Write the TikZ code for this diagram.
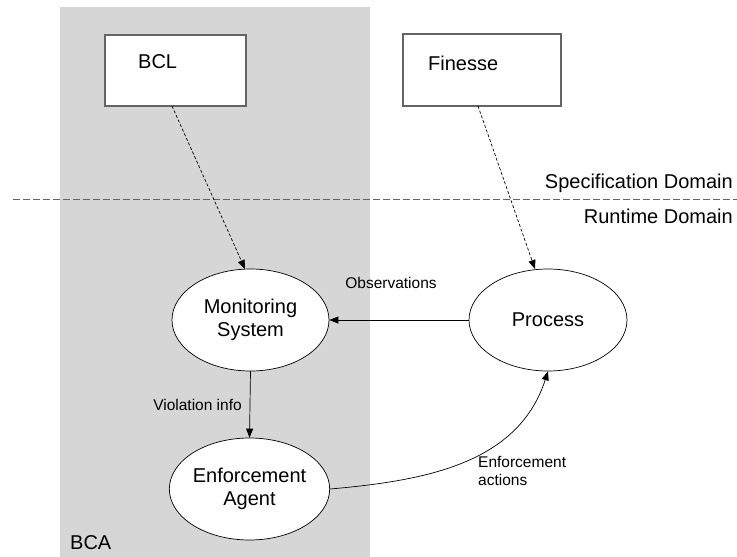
\documentclass[tikz,border=0pt]{standalone}
\usepackage{fontspec}
\setmainfont{Liberation Sans}
\usetikzlibrary{arrows.meta,shapes.geometric}
\definecolor{areagray}{RGB}{214,214,214}
\definecolor{boxedge}{RGB}{100,100,100}
\begin{document}
\begin{tikzpicture}[x=1pt,y=-1pt,
  bigtext/.style={font=\fontsize{20}{23}\selectfont},
  smalltext/.style={font=\fontsize{15.5}{18}\selectfont},
  specbox/.style={draw=boxedge,line width=1.2pt,fill=white,inner sep=0pt},
  oval/.style={draw=black,line width=0.7pt,fill=white,ellipse,minimum width=157pt,minimum height=102pt,inner sep=0pt,align=center,bigtext},
  arr/.style={line width=0.7pt,-{Triangle[length=9pt,width=7pt]}},
  darr/.style={arr,dash pattern=on 3pt off 2pt}
]
\useasboundingbox (0,0) rectangle (737,557);
\fill[areagray] (60,7) rectangle (370,557);
\draw[boxedge,line width=1pt,dash pattern=on 7pt off 3pt] (13,199) -- (737,199);

\node[specbox,minimum width=141pt,minimum height=71pt] (bcl) at (175.5,70.5) {};
\node[specbox,minimum width=158pt,minimum height=72pt] (fin) at (482,70) {};
\node[bigtext,anchor=west,inner sep=0pt] (bcltxt) at (138,62) {BCL};
\node[bigtext,anchor=west,inner sep=0pt] (fintxt) at (428,63) {Finesse};

\node[bigtext,anchor=east,inner sep=0pt] (spec) at (733,183) {Specification Domain};
\node[bigtext,anchor=east,inner sep=0pt] (run) at (733,216) {Runtime Domain};

\node[oval] (ms) at (250.5,320) {Monitoring\\System};
\node[oval,minimum width=158pt] (proc) at (548,320) {Process};
\node[oval] (ea) at (249.5,489) {Enforcement\\Agent};

\node[bigtext,anchor=west,inner sep=0pt] (bca) at (70,543) {BCA};

\coordinate (bclout) at (172,106);
\coordinate (finout) at (478,106);
\coordinate (msin) at (245,269);
\coordinate (procin) at (535,269);
\draw[darr] (bclout) -- (msin);
\draw[darr] (finout) -- (procin);

\draw[arr] (proc.west) -- (ms.east);
\node[smalltext,inner sep=0pt] (obs) at (391,283) {Observations};

\draw[arr] (ms.south) -- (ea.north);
\node[smalltext,inner sep=0pt] (vio) at (197.5,405) {Violation info};

\draw[arr] (ea.east) to[out=5,in=-108] (proc.south);
\node[smalltext,anchor=north west,align=left,inner sep=0pt] (act) at (478,456) {Enforcement\\actions};
\end{tikzpicture}
\end{document}
